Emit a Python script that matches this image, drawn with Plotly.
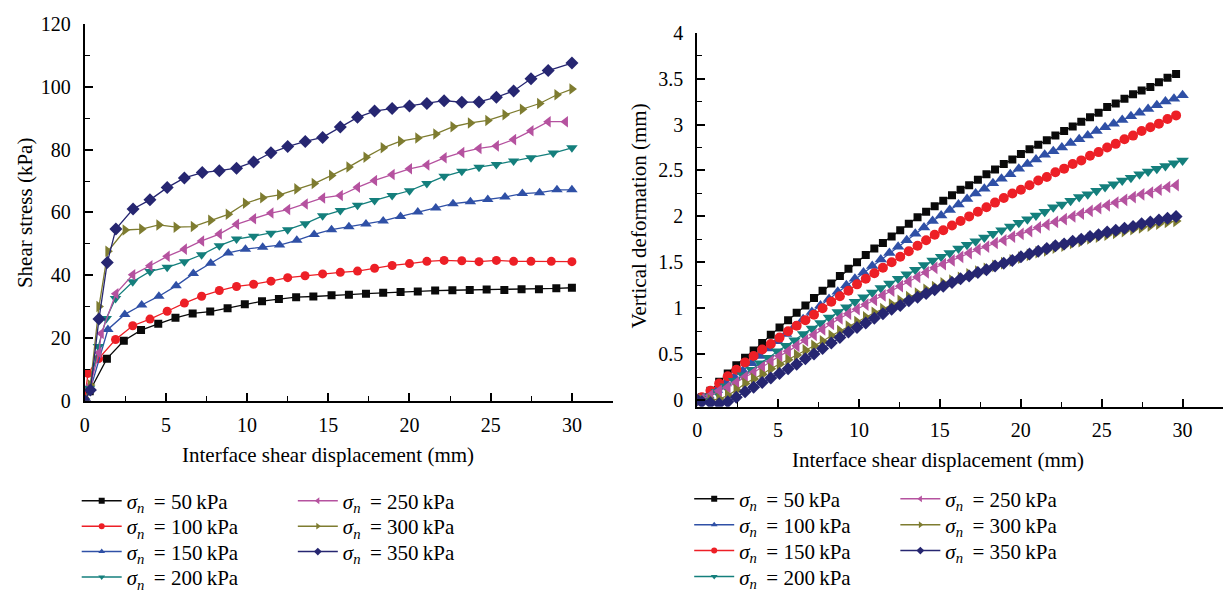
import plotly.graph_objects as go

PRESSURES = [50, 100, 150, 200, 250, 300, 350]

# ---- Shear stress (kPa) against interface shear displacement (mm) ----
shear_x_50 = [0, 0.31, 1.37, 2.41, 3.47, 4.53, 5.59, 6.65, 7.73, 8.80, 9.86, 10.92, 11.96, 13.02, 14.08,
              15.2, 16.27, 17.32, 18.38, 19.45, 20.51, 21.58, 22.64, 23.71, 24.75, 25.84, 26.9, 27.97, 29.04, 30.0]
shear_y_50 = [0, 3.0, 13.4, 19.1, 22.5, 24.5, 26.4, 27.8, 28.4, 29.5, 30.7, 31.7, 32.4, 33.0, 33.2,
              33.6, 33.8, 34.1, 34.4, 34.6, 34.8, 35.1, 35.2, 35.3, 35.4, 35.3, 35.5, 35.5, 35.8, 36.0]

shear_x_100 = [0, 0.2, 0.86, 1.9, 2.96, 4.02, 5.08, 6.14, 7.2, 8.29, 9.35, 10.4, 11.47, 12.5, 13.57,
               14.65, 15.74, 16.8, 17.85, 18.93, 20.0, 21.07, 22.13, 23.22, 24.28, 25.35, 26.41, 27.48, 28.73, 30.0]
shear_y_100 = [0, 8.7, 13.4, 19.5, 23.9, 26.0, 28.5, 31.1, 33.3, 35.1, 36.4, 37.1, 38.1, 39.2, 39.8,
               40.4, 40.9, 41.3, 42.2, 43.1, 43.7, 44.4, 44.7, 44.6, 44.3, 44.7, 44.4, 44.4, 44.4, 44.3]

shear_x_150 = [0, 0.37, 1.43, 2.47, 3.51, 4.57, 5.63, 6.69, 7.76, 8.84, 9.9, 10.96, 12.0, 13.06, 14.13,
               15.2, 16.27, 17.32, 18.38, 19.45, 20.51, 21.62, 22.68, 23.75, 24.82, 25.88, 26.95, 28.01, 29.08, 30.0]
shear_y_150 = [0, 4.0, 22.7, 27.5, 30.5, 33.3, 36.6, 40.5, 43.8, 47.1, 48.3, 48.9, 49.6, 51.1, 53.0,
               54.5, 55.4, 56.3, 57.3, 58.7, 60.1, 61.4, 62.8, 63.4, 64.1, 64.9, 66.0, 66.3, 67.2, 67.2]

shear_x_200 = [0, 0.3, 0.84, 1.33, 1.9, 2.96, 4.02, 5.08, 6.14, 7.2, 8.29, 9.35, 10.4, 11.47, 12.5, 13.58,
               14.65, 15.74, 16.8, 17.85, 18.93, 20.0, 21.07, 22.13, 23.22, 24.28, 25.35, 26.41, 27.48, 28.85, 30.0]
shear_y_200 = [0, 4.0, 17.3, 26.2, 32.6, 37.9, 41.2, 42.5, 44.3, 46.5, 49.4, 51.5, 52.4, 53.4, 54.5, 56.4,
               58.9, 60.6, 62.3, 63.8, 65.4, 66.9, 69.2, 71.5, 73.1, 74.4, 75.3, 76.4, 77.4, 78.9, 80.6]

shear_x_250 = [0, 0.35, 0.88, 1.02, 1.92, 2.96, 4.02, 5.08, 6.14, 7.2, 8.29, 9.35, 10.4, 11.47, 12.5, 13.58,
               14.65, 15.74, 16.8, 17.85, 18.93, 20.0, 21.07, 22.13, 23.22, 24.28, 25.35, 26.41, 27.48, 28.54, 29.6]
shear_y_250 = [0, 5.0, 15.3, 21.4, 34.1, 40.1, 43.0, 46.0, 48.3, 50.9, 53.1, 56.2, 58.0, 59.8, 60.9, 62.7,
               64.6, 65.4, 68.0, 70.2, 72.1, 73.9, 75.1, 77.4, 79.1, 80.4, 81.2, 83.2, 86.0, 88.9, 88.9]

shear_x_300 = [0, 0.35, 0.88, 1.43, 2.49, 3.51, 4.57, 5.63, 6.69, 7.76, 8.84, 9.9, 10.96, 12.0, 13.06, 14.13,
               15.2, 16.27, 17.32, 18.38, 19.45, 20.51, 21.62, 22.68, 23.75, 24.82, 25.88, 26.95, 28.01, 29.08, 30.0]
shear_y_300 = [0, 5.0, 30.0, 47.6, 54.4, 54.7, 56.0, 55.3, 55.5, 57.5, 59.4, 62.9, 64.7, 65.6, 67.5, 69.2,
               71.8, 74.5, 77.6, 80.6, 82.7, 83.7, 85.0, 87.3, 88.5, 89.3, 91.1, 92.9, 94.7, 97.5, 99.3]

shear_x_350 = [0, 0.35, 0.88, 1.39, 1.92, 2.98, 4.02, 5.08, 6.14, 7.24, 8.29, 9.35, 10.4, 11.47, 12.5, 13.58,
               14.65, 15.74, 16.8, 17.85, 18.93, 20.0, 21.07, 22.13, 23.22, 24.28, 25.35, 26.41, 27.48, 28.54, 30.0]
shear_y_350 = [0, 3.4, 26.0, 44.0, 54.7, 61.1, 64.0, 67.9, 71.0, 72.7, 73.3, 74.1, 76.1, 79.0, 81.0, 82.6,
               83.9, 87.2, 90.3, 92.3, 93.1, 93.9, 94.7, 95.6, 95.1, 95.2, 96.7, 98.7, 102.6, 105.2, 107.6]

# ---- Vertical deformation (mm) against interface shear displacement (mm) ----
disp_a = [0, 0.29, 0.82, 1.36, 1.89, 2.42, 2.96, 3.49, 4.02, 4.55, 5.09, 5.62, 6.15, 6.69, 7.22, 7.75,
          8.29, 8.82, 9.35, 9.88, 10.42, 10.95, 11.48, 12.02, 12.55, 13.08, 13.62, 14.15, 14.68, 15.21,
          15.75, 16.28, 16.81, 17.35, 17.88, 18.41, 18.95, 19.48, 20.01, 20.54, 21.08, 21.61, 22.14, 22.68,
          23.21, 23.74, 24.28, 24.81, 25.34, 25.87, 26.41, 26.94, 27.47, 28.01, 28.54, 29.07, 29.60]
disp_b = [0, 0.69, 1.22, 1.76, 2.29, 2.82, 3.36, 3.89, 4.42, 4.95, 5.49, 6.02, 6.55, 7.09, 7.62, 8.15,
          8.69, 9.22, 9.75, 10.28, 10.82, 11.35, 11.88, 12.42, 12.95, 13.48, 14.02, 14.55, 15.08, 15.61,
          16.15, 16.68, 17.21, 17.75, 18.28, 18.81, 19.35, 19.88, 20.41, 20.94, 21.48, 22.01, 22.54, 23.08,
          23.61, 24.14, 24.68, 25.21, 25.74, 26.27, 26.81, 27.34, 27.87, 28.41, 28.94, 29.47, 30.00]

vert_50 = [0, 0.03, 0.10, 0.20, 0.29, 0.38, 0.46, 0.54, 0.62, 0.71, 0.79, 0.87, 0.95, 1.03, 1.11, 1.19,
           1.27, 1.35, 1.43, 1.50, 1.58, 1.65, 1.71, 1.78, 1.85, 1.92, 1.99, 2.05, 2.11, 2.17,
           2.23, 2.29, 2.34, 2.40, 2.46, 2.51, 2.57, 2.62, 2.68, 2.73, 2.78, 2.83, 2.88, 2.93,
           2.98, 3.03, 3.08, 3.13, 3.19, 3.23, 3.28, 3.33, 3.37, 3.41, 3.46, 3.51, 3.55]
vert_100 = [0, 0.05, 0.11, 0.18, 0.25, 0.32, 0.40, 0.48, 0.56, 0.64, 0.72, 0.80, 0.88, 0.96, 1.03, 1.10,
            1.18, 1.25, 1.32, 1.39, 1.46, 1.53, 1.60, 1.67, 1.74, 1.81, 1.88, 1.95, 2.01, 2.07,
            2.13, 2.19, 2.25, 2.30, 2.36, 2.41, 2.46, 2.52, 2.57, 2.62, 2.67, 2.71, 2.75, 2.80,
            2.84, 2.88, 2.93, 2.97, 3.01, 3.05, 3.09, 3.13, 3.17, 3.21, 3.25, 3.28, 3.32]
vert_150 = [0, 0.03, 0.10, 0.18, 0.26, 0.33, 0.41, 0.48, 0.55, 0.61, 0.68, 0.75, 0.81, 0.87, 0.93, 1.00,
            1.07, 1.13, 1.19, 1.26, 1.32, 1.38, 1.44, 1.50, 1.56, 1.62, 1.68, 1.74, 1.80, 1.85,
            1.90, 1.95, 2.00, 2.05, 2.10, 2.15, 2.20, 2.25, 2.29, 2.34, 2.39, 2.43, 2.48, 2.52,
            2.57, 2.61, 2.66, 2.70, 2.75, 2.79, 2.84, 2.88, 2.93, 2.97, 3.01, 3.06, 3.10]
vert_200 = [0, 0.04, 0.09, 0.15, 0.21, 0.27, 0.33, 0.40, 0.46, 0.53, 0.59, 0.65, 0.72, 0.78, 0.84, 0.90,
            0.96, 1.01, 1.07, 1.12, 1.17, 1.22, 1.27, 1.32, 1.37, 1.42, 1.47, 1.52, 1.56, 1.60,
            1.65, 1.69, 1.73, 1.77, 1.81, 1.85, 1.89, 1.93, 1.97, 2.01, 2.05, 2.10, 2.13, 2.17,
            2.21, 2.24, 2.28, 2.32, 2.35, 2.39, 2.42, 2.46, 2.49, 2.52, 2.55, 2.58, 2.61]
vert_250 = [0, 0.01, 0.05, 0.10, 0.14, 0.19, 0.25, 0.30, 0.36, 0.42, 0.48, 0.53, 0.59, 0.65, 0.71, 0.77,
            0.83, 0.89, 0.94, 0.99, 1.04, 1.09, 1.14, 1.19, 1.24, 1.29, 1.34, 1.39, 1.44, 1.48,
            1.52, 1.56, 1.60, 1.64, 1.67, 1.71, 1.74, 1.78, 1.81, 1.84, 1.88, 1.91, 1.94, 1.97,
            2.00, 2.03, 2.06, 2.09, 2.12, 2.15, 2.18, 2.21, 2.24, 2.26, 2.29, 2.32, 2.34]
vert_300 = [0, 0.00, 0.00, 0.01, 0.05, 0.11, 0.18, 0.23, 0.28, 0.34, 0.39, 0.44, 0.49, 0.54, 0.59, 0.64,
            0.70, 0.75, 0.80, 0.85, 0.90, 0.95, 0.99, 1.04, 1.08, 1.12, 1.16, 1.20, 1.23, 1.27,
            1.30, 1.33, 1.37, 1.40, 1.43, 1.46, 1.49, 1.52, 1.55, 1.58, 1.61, 1.63, 1.66, 1.68,
            1.71, 1.73, 1.76, 1.78, 1.80, 1.82, 1.84, 1.86, 1.88, 1.90, 1.92, 1.94, 1.95]
vert_350 = [0, -0.02, -0.03, -0.04, -0.02, 0.03, 0.09, 0.14, 0.19, 0.24, 0.29, 0.34, 0.39, 0.45, 0.50, 0.56,
            0.62, 0.68, 0.74, 0.79, 0.84, 0.89, 0.94, 0.99, 1.03, 1.08, 1.12, 1.16, 1.20, 1.24,
            1.28, 1.32, 1.35, 1.39, 1.42, 1.46, 1.49, 1.52, 1.56, 1.59, 1.62, 1.65, 1.68, 1.70,
            1.73, 1.75, 1.78, 1.80, 1.83, 1.85, 1.87, 1.89, 1.92, 1.94, 1.96, 1.98, 2.00]

shear_series = [
    (shear_x_50, shear_y_50), (shear_x_100, shear_y_100), (shear_x_150, shear_y_150),
    (shear_x_200, shear_y_200), (shear_x_250, shear_y_250), (shear_x_300, shear_y_300),
    (shear_x_350, shear_y_350),
]
vert_series = [
    (disp_a, vert_50), (disp_b, vert_100), (disp_a, vert_150), (disp_b, vert_200),
    (disp_a, vert_250), (disp_a, vert_300), (disp_a, vert_350),
]

BLACK, RED, BLUE, TEAL = "#0a0a0a", "#ed1f26", "#2f50a6", "#147f7c"
MAGENTA, OLIVE, NAVY = "#b5529f", "#7e7c30", "#262671"

# (colour, symbol, size) per pressure for each panel
shear_style = [(BLACK, "square", 8), (RED, "circle", 9), (BLUE, "triangle-up", 10),
               (TEAL, "triangle-down", 10), (MAGENTA, "triangle-left", 10),
               (OLIVE, "triangle-right", 10), (NAVY, "diamond", 10)]
vert_style = [(BLACK, "square", 8), (BLUE, "triangle-up", 11), (RED, "circle", 10),
              (TEAL, "triangle-down", 11), (MAGENTA, "triangle-left", 11),
              (OLIVE, "triangle-right", 11), (NAVY, "diamond", 10)]

SERIF = "Liberation Serif"
W, H = 1226, 598


def px_x(v):
    return v / W


def px_y(v):
    return 1 - v / H


def label(p):
    return f"<i>σ</i><sub><i>n</i></sub>\u2009 = {p}\u2009kPa"


fig = go.Figure()

for (xs, ys), (c, sym, sz) in zip(shear_series, shear_style):
    fig.add_trace(go.Scatter(x=xs, y=ys, mode="lines+markers", xaxis="x", yaxis="y",
                             line=dict(color=c, width=1.3), marker=dict(color=c, symbol=sym, size=sz),
                             showlegend=False, hoverinfo="skip"))
for (xs, ys), (c, sym, sz) in zip(vert_series, vert_style):
    fig.add_trace(go.Scatter(x=xs, y=ys, mode="lines+markers", xaxis="x2", yaxis="y2",
                             line=dict(color=c, width=1.2), marker=dict(color=c, symbol=sym, size=sz),
                             showlegend=False, hoverinfo="skip"))

# Legend: one single-entry legend per row, arranged in two columns under each panel
legend_layout = {}
legend_font = dict(family=SERIF, size=21, color="black")
panel_legend_spec = [
    ("x", "y", shear_style, [80, 297], [503, 529.5, 556, 582.5]),
    ("x2", "y2", vert_style, [695, 902], [501, 528, 555, 582]),
]
n_leg = 0
for xa, ya, styles, col_x, row_y in panel_legend_spec:
    for i, (p, (c, sym, _)) in enumerate(zip(PRESSURES, styles)):
        n_leg += 1
        key = "legend" if n_leg == 1 else f"legend{n_leg}"
        col, row = (0, i) if i < 4 else (1, i - 4)
        fig.add_trace(go.Scatter(x=[None], y=[None], mode="lines+markers", xaxis=xa, yaxis=ya,
                                 line=dict(color=c, width=1.5), marker=dict(color=c, symbol=sym, size=6),
                                 name=label(p), legend=key))
        legend_layout[key] = dict(x=px_x(col_x[col] - 8), y=px_y(row_y[row] + 8.5), xanchor="left",
                                  yanchor="middle", font=legend_font, bgcolor="rgba(0,0,0,0)",
                                  borderwidth=0, itemwidth=40)

tickfont = dict(family=SERIF, size=20, color="black")
common = dict(showline=True, linecolor="black", linewidth=2, showgrid=False, zeroline=False,
              ticks="inside", ticklen=8, tickwidth=1.5, tickcolor="black", tickfont=tickfont)
minor = dict(ticks="inside", ticklen=5, tickwidth=1.2, tickcolor="black", showgrid=False)

Y2_BOTTOM = 413  # pixel row of the lower axis in the right panel

fig.update_layout(
    width=W, height=H, margin=dict(l=0, r=0, t=0, b=0),
    paper_bgcolor="white", plot_bgcolor="white",
    xaxis=dict(domain=[px_x(80), px_x(610)], range=[0, 32.5], anchor="y", ticklabelstandoff=5,
               tickvals=[0, 5, 10, 15, 20, 25, 30], minor=dict(dtick=2.5, **minor), **common),
    yaxis=dict(domain=[px_y(406.7), px_y(13.7)], range=[0, 120], anchor="x", ticklabelstandoff=8,
               dtick=20, minor=dict(dtick=10, **minor), **common),
    xaxis2=dict(domain=[px_x(695), px_x(1223)], range=[0, 32.5], anchor="y2", ticklabelstandoff=4,
                tickvals=[0, 5, 10, 15, 20, 25, 30], minor=dict(dtick=2.5, **minor), **common),
    yaxis2=dict(domain=[px_y(Y2_BOTTOM), px_y(22.7)], range=[-0.073, 4], anchor="x2", ticklabelstandoff=8,
                tickvals=[0, 0.5, 1, 1.5, 2, 2.5, 3, 3.5, 4],
                ticktext=["0", "0.5", "1", "1.5", "2", "2.5", "3", "3.5", "4"],
                minor=dict(tickvals=[0.25, 0.75, 1.25, 1.75, 2.25, 2.75, 3.25, 3.75], **minor), **common),
    **legend_layout,
)

title_font = dict(family=SERIF, size=21, color="black")
axis_titles = [
    ("Interface shear displacement (mm)", 324, 463, 0),
    ("Shear stress (kPa)", 20, 211, -90),
    ("Interface shear displacement (mm)", 937, 469, 0),
    ("Vertical deformation (mm)", 637, 214, -90),
]
for text, ax, ay, ang in axis_titles:
    fig.add_annotation(text=text, xref="paper", yref="paper", x=px_x(ax), y=px_y(ay),
                       xanchor="center", yanchor="middle", textangle=ang, showarrow=False,
                       font=title_font)

fig.write_html("out.html")
